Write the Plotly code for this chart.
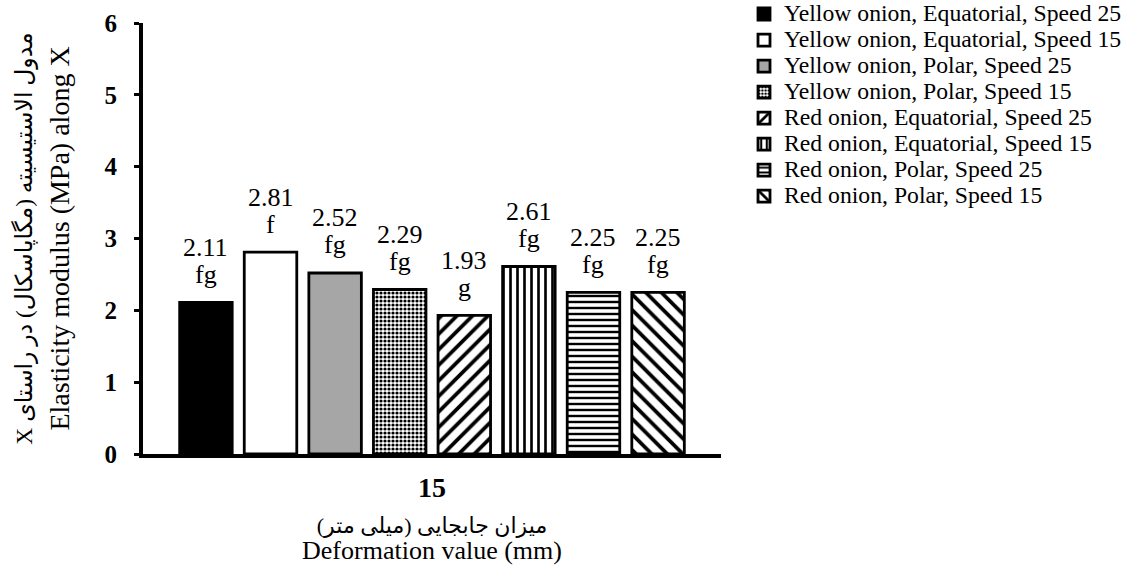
import plotly.graph_objects as go

# Deformation level (single category on the x axis)
deformation = ["15"]

# Treatments plotted as grouped bars
series_names = [
    "Yellow onion, Equatorial, Speed 25",
    "Yellow onion, Equatorial, Speed 15",
    "Yellow onion, Polar, Speed 25",
    "Yellow onion, Polar, Speed 15",
    "Red onion, Equatorial, Speed 25",
    "Red onion, Equatorial, Speed 15",
    "Red onion, Polar, Speed 25",
    "Red onion, Polar, Speed 15",
]

# Elasticity modulus along X (MPa) and mean-separation letters
modulus = [2.11, 2.81, 2.52, 2.29, 1.93, 2.61, 2.25, 2.25]
letters = ["fg", "f", "fg", "fg", "g", "fg", "fg", "fg"]

# Fill style for each treatment (base colour, hatch shape, hatch size, solidity)
styles = [
    dict(color="black", shape="", size=8, solidity=0.3),
    dict(color="white", shape="", size=8, solidity=0.3),
    dict(color="#a6a6a6", shape="", size=8, solidity=0.3),
    dict(color="white", shape=".", size=4, solidity=0.5),
    dict(color="white", shape="/", size=11, solidity=0.34),
    dict(color="white", shape="|", size=7, solidity=0.38),
    dict(color="white", shape="-", size=6, solidity=0.4),
    dict(color="white", shape="\\", size=11, solidity=0.34),
]

SERIF = "Liberation Serif, Times New Roman, DejaVu Sans, serif"
BARGAP = 0.106
GROUPGAP = 0.187

# Right-to-left embedding for the Persian lines
RLE, PDF = "\u202b", "\u202c"


def span(text, px):
    return f'<span style="font-size:{px}px">{text}</span>'


fig = go.Figure()
for name, val, st in zip(series_names, modulus, styles):
    fig.add_trace(go.Bar(
        name=span(name, 23.7),
        x=deformation,
        y=[val],
        hovertemplate=f"{name}<br>%{{y:.2f}} MPa<extra></extra>",
        marker=dict(
            color=st["color"],
            line=dict(color="black", width=2.8),
            pattern=dict(
                shape=st["shape"],
                fgcolor="black",
                bgcolor=st["color"],
                size=st["size"],
                solidity=st["solidity"],
                fillmode="replace",
            ),
        ),
    ))

# Value and letter labels above each bar, centred on the bar's slot in the group
n = len(modulus)
group_w = 1 - BARGAP
slot = group_w / n
for i, (val, letter) in enumerate(zip(modulus, letters)):
    xc = -group_w / 2 + (i + 0.5) * slot
    fig.add_annotation(x=xc, y=val, xref="x", yref="y", text=f"{val:.2f}",
                       showarrow=False, yanchor="middle", yshift=55,
                       font=dict(family=SERIF, size=26, color="black"))
    fig.add_annotation(x=xc, y=val, xref="x", yref="y", text=letter,
                       showarrow=False, yanchor="middle", yshift=28,
                       font=dict(family=SERIF, size=26, color="black"))

fig.update_layout(
    width=1129,
    height=577,
    margin=dict(l=143, r=408, t=23, b=123, autoexpand=False),
    paper_bgcolor="white",
    plot_bgcolor="white",
    barmode="group",
    bargap=BARGAP,
    bargroupgap=GROUPGAP,
    font=dict(family=SERIF, color="black"),
    showlegend=True,
    legend=dict(
        x=1.0398, xanchor="left",
        y=1.0626, yanchor="top",
        font=dict(family=SERIF, size=17.7, color="black"),
        itemwidth=30,
        tracegroupgap=0,
        bgcolor="rgba(0,0,0,0)",
    ),
)

x_title_fa = RLE + "میزان جابجایی (میلی متر)" + PDF
y_title_fa = RLE + "مدول الاستیسیته (مگاپاسکال) در راستای X" + PDF

fig.update_xaxes(
    showline=True, linecolor="black", linewidth=4,
    ticks="", showgrid=False, zeroline=False,
    tickfont=dict(family=SERIF, size=28, weight="bold"),
    ticklabelstandoff=5,
    title=dict(
        text=span(x_title_fa, 22) + "<br>" + span("Deformation value (mm)", 26),
        font=dict(family=SERIF, size=20),
        standoff=18,
    ),
    automargin=False,
)

fig.update_yaxes(
    range=[0, 6], dtick=1,
    showline=True, linecolor="black", linewidth=4,
    ticks="outside", ticklen=5, tickwidth=3, tickcolor="black",
    showgrid=False, zeroline=False,
    tickfont=dict(family=SERIF, size=25, weight="bold"),
    ticklabelstandoff=12,
    title=dict(
        text=span(y_title_fa, 23.5) + "<br>Elasticity modulus (MPa) along X",
        font=dict(family=SERIF, size=28),
        standoff=28,
    ),
    automargin=False,
)

fig.write_html("out.html")
